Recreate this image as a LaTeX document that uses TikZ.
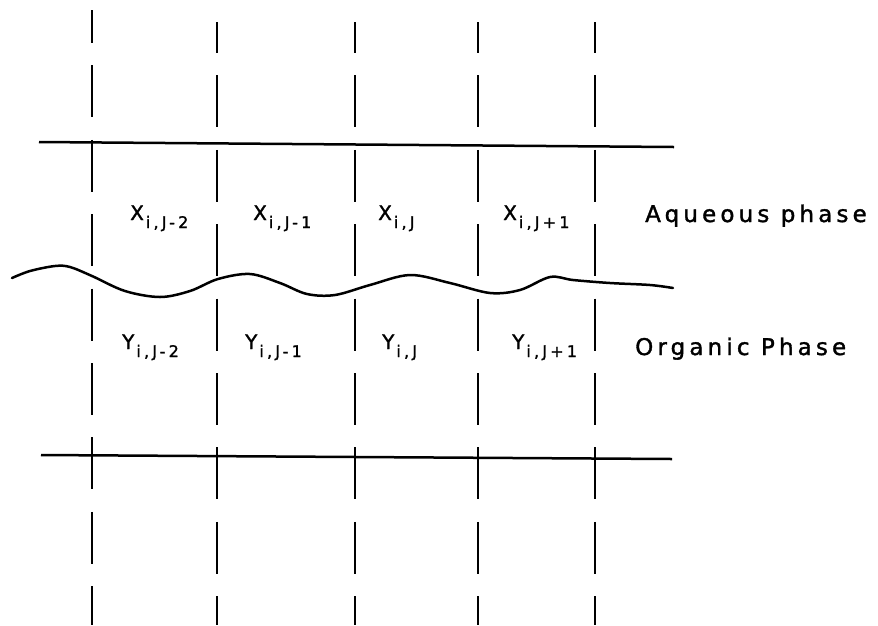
\documentclass[tikz,border=0pt]{standalone}
\usepackage{fontspec}
\newfontfamily\plotfont{DejaVu Sans}[LetterSpace=12,FakeBold=1.5]
\newfontfamily\subfont{DejaVu Sans}[LetterSpace=20,FakeBold=1.5]
\newfontfamily\phasefont{DejaVu Sans}[LetterSpace=18,FakeBold=1.5]
\newcommand{\subsz}{\subfont\fontsize{16}{16}\selectfont}
\newcommand{\cellname}[2]{#1\kern2pt\raisebox{-8pt}{\subsz #2}}
\begin{document}
\begin{tikzpicture}[x=1pt,y=-1pt,
  grid/.style={line width=1.9pt, dash pattern=on 52pt off 22.4pt},
  phaseline/.style={line width=2.5pt},
  wave/.style={line width=2.5pt, line cap=round, line join=round},
  cell/.style={font=\plotfont\fontsize{20}{20}\selectfont, inner sep=0pt, anchor=base west},
  lbl/.style={font=\phasefont\fontsize{23}{23}\selectfont, inner sep=0pt, anchor=base west}]
\useasboundingbox (0,0) rectangle (878,625);
% vertical dashed grid lines
\coordinate (v1t) at (92,10);  \coordinate (v1b) at (92,625);
\coordinate (v2t) at (217,22); \coordinate (v2b) at (217,625);
\coordinate (v3t) at (355,22); \coordinate (v3b) at (355,625);
\coordinate (v4t) at (478,22); \coordinate (v4b) at (478,625);
\coordinate (v5t) at (595,22); \coordinate (v5b) at (595,625);
\draw[grid, dash phase=19pt] (v1t) -- (v1b);
\draw[grid, dash phase=21pt] (v2t) -- (v2b);
\draw[grid, dash phase=21pt] (v3t) -- (v3b);
\draw[grid, dash phase=21pt] (v4t) -- (v4b);
\draw[grid, dash phase=21pt] (v5t) -- (v5b);
% horizontal boundaries
\coordinate (a1) at (39,142);  \coordinate (a2) at (674,147);
\coordinate (o1) at (41,455);  \coordinate (o2) at (672,459);
\draw[phaseline] (a1) -- (a2);
\draw[phaseline] (o1) -- (o2);
% interface
\draw[wave] plot[smooth, tension=0.55] coordinates {(12,278) (30,271) (55,266) (70,267) (92,276) (125,291) (160,297) (190,291) (218,279) (250,274) (280,283) (307,294) (335,295) (370,285) (410,275) (450,283) (490,293) (520,290) (550,277) (573,280) (610,283) (650,285) (673,288)};
% cell labels
\node[cell] (x1) at (130,220) {\cellname{X}{i,J-2}};
\node[cell] (x2) at (253,220) {\cellname{X}{i,J-1}};
\node[cell] (x3) at (378,220) {\cellname{X}{i,J}};
\node[cell] (x4) at (503,220) {\cellname{X}{i,J+1}};
\node[cell] (y1) at (122,349) {\cellname{Y}{i,J-2}};
\node[cell] (y2) at (245,349) {\cellname{Y}{i,J-1}};
\node[cell] (y3) at (382,349) {\cellname{Y}{i,J}};
\node[cell] (y4) at (512,349) {\cellname{Y}{i,J+1}};
% phase labels
\node[lbl] (aq) at (645,222) {Aqueous phase};
\node[lbl] (org) at (635,355) {Organic Phase};
\end{tikzpicture}
\end{document}
